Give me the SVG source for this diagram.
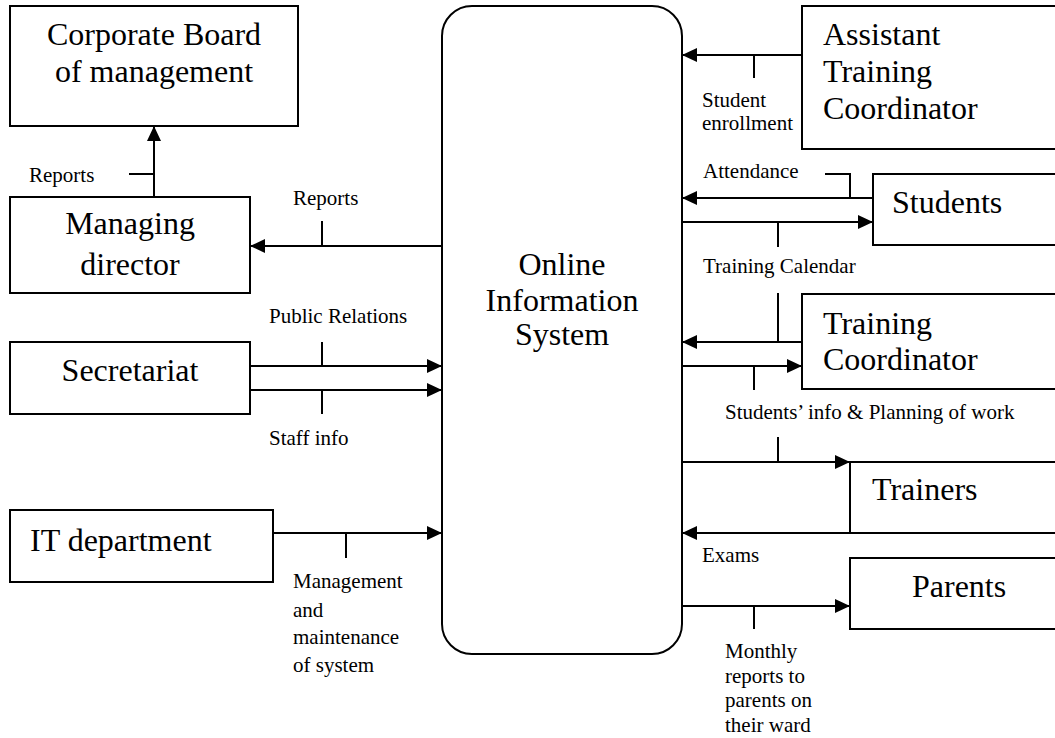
<svg xmlns="http://www.w3.org/2000/svg" width="1055" height="738" viewBox="0 0 1055 738">
<style>
.box{fill:#fff;stroke:#000;stroke-width:2}
.big{font-family:"Liberation Serif","Times New Roman",serif;font-size:32px;fill:#000}
.lbl{font-family:"Liberation Serif","Times New Roman",serif;font-size:21px;fill:#000}
.ln{stroke:#000;stroke-width:2;fill:none}
.ar{stroke:#000;stroke-width:2;fill:none;marker-end:url(#ah)}
</style>
<defs>
<marker id="ah" markerUnits="userSpaceOnUse" markerWidth="15" markerHeight="14" refX="15" refY="7" orient="auto">
<path d="M0,0 L15,7 L0,14 z" fill="#000"/>
</marker>
</defs>
<rect width="1055" height="738" fill="#fff"/>

<g id="corporate-board">
<rect class="box" x="10" y="6" width="288" height="120"/>
<text class="big" x="154" y="45" text-anchor="middle">Corporate Board</text>
<text class="big" x="154" y="82" text-anchor="middle">of management</text>
</g>
<g id="managing-director">
<rect class="box" x="10" y="197" width="240" height="96"/>
<text class="big" x="130" y="234" text-anchor="middle">Managing</text>
<text class="big" x="130" y="275" text-anchor="middle">director</text>
</g>
<g id="secretariat">
<rect class="box" x="10" y="342" width="240" height="72"/>
<text class="big" x="130" y="381" text-anchor="middle">Secretariat</text>
</g>
<g id="it-department">
<rect class="box" x="10" y="510" width="263" height="72"/>
<text class="big" x="30" y="551">IT department</text>
</g>
<g id="online-information-system">
<rect class="box" x="442" y="6" width="240" height="648" rx="30" ry="30"/>
<text class="big" x="562" y="275" text-anchor="middle">Online</text>
<text class="big" x="562" y="311" text-anchor="middle">Information</text>
<text class="big" x="562" y="345" text-anchor="middle">System</text>
</g>
<g id="assistant-training-coordinator">
<rect class="box" x="802" y="6" width="270" height="143"/>
<text class="big" x="823" y="45">Assistant</text>
<text class="big" x="823" y="82">Training</text>
<text class="big" x="823" y="119">Coordinator</text>
</g>
<g id="students">
<rect class="box" x="873" y="174" width="200" height="71"/>
<text class="big" x="892" y="213">Students</text>
</g>
<g id="training-coordinator">
<rect class="box" x="802" y="294" width="270" height="95"/>
<text class="big" x="823" y="334">Training</text>
<text class="big" x="823" y="370">Coordinator</text>
</g>
<g id="trainers">
<rect class="box" x="850" y="462" width="220" height="71"/>
<text class="big" x="872" y="500">Trainers</text>
</g>
<g id="parents">
<rect class="box" x="850" y="558" width="220" height="71"/>
<text class="big" x="912" y="597">Parents</text>
</g>

<g id="connectors">
<path class="ar" d="M154,197 V126"/>
<path class="ln" d="M129,174 H154"/>
<text class="lbl" x="29" y="182">Reports</text>

<path class="ar" d="M442,246 H250"/>
<path class="ln" d="M322,221 V246"/>
<text class="lbl" x="293" y="205">Reports</text>

<path class="ar" d="M250,366 H442"/>
<path class="ln" d="M322,342 V366"/>
<text class="lbl" x="269" y="323">Public Relations</text>

<path class="ar" d="M250,390 H442"/>
<path class="ln" d="M322,390 V414"/>
<text class="lbl" x="269" y="445">Staff info</text>

<path class="ar" d="M273,533 H442"/>
<path class="ln" d="M346,533 V558"/>
<text class="lbl" x="293" y="588">Management</text>
<text class="lbl" x="293" y="617">and</text>
<text class="lbl" x="293" y="644">maintenance</text>
<text class="lbl" x="293" y="672">of system</text>

<path class="ar" d="M802,55 H682"/>
<path class="ln" d="M754,55 V78"/>
<text class="lbl" x="702" y="107">Student</text>
<text class="lbl" x="702" y="130">enrollment</text>

<path class="ar" d="M873,198 H682"/>
<path class="ln" d="M825,174 H850 V198"/>
<text class="lbl" x="703" y="178">Attendance</text>

<path class="ar" d="M682,222 H873"/>
<path class="ln" d="M778,222 V247"/>
<text class="lbl" x="703" y="273">Training Calendar</text>

<path class="ar" d="M802,342 H682"/>
<path class="ln" d="M778,293 V342"/>

<path class="ar" d="M682,366 H802"/>
<path class="ln" d="M754,366 V390"/>
<text class="lbl" x="725" y="419">Students’ info &amp; Planning of work</text>

<path class="ar" d="M682,462 H850"/>
<path class="ln" d="M778,437 V462"/>

<path class="ar" d="M850,533 H682"/>
<text class="lbl" x="702" y="562">Exams</text>

<path class="ar" d="M682,606 H850"/>
<path class="ln" d="M754,606 V629"/>
<text class="lbl" x="725" y="658">Monthly</text>
<text class="lbl" x="725" y="683">reports to</text>
<text class="lbl" x="725" y="707">parents on</text>
<text class="lbl" x="725" y="732">their ward</text>
</g>
</svg>
